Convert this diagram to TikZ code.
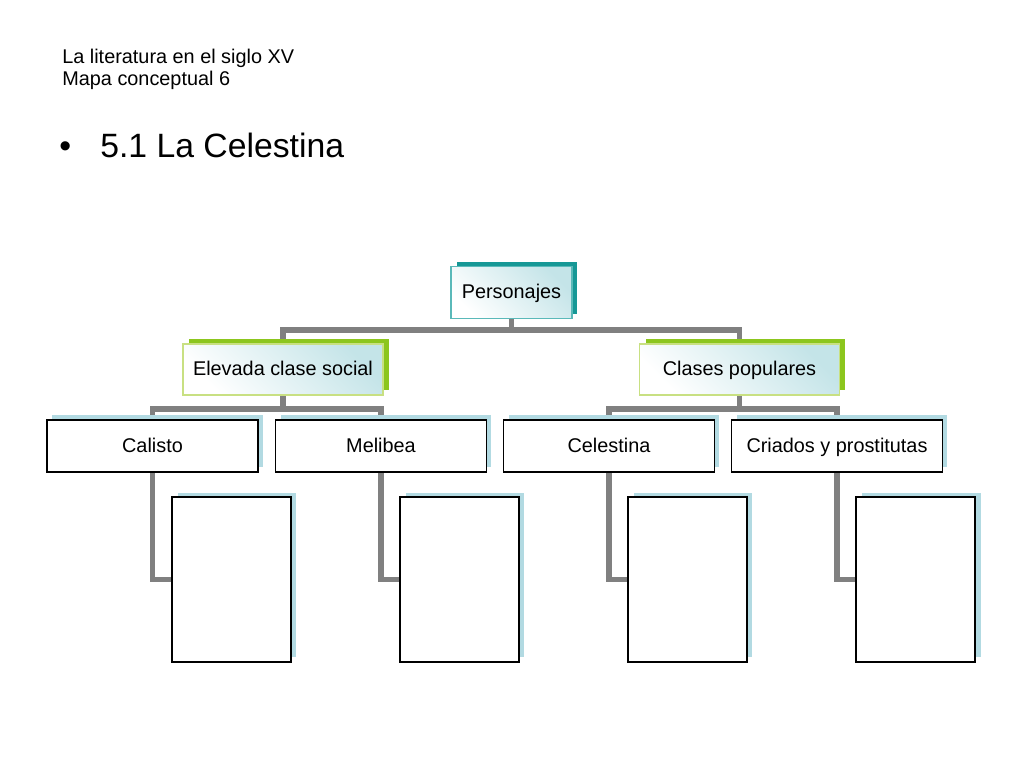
\documentclass[tikz,border=0pt]{standalone}
\usepackage{fontspec}
\setmainfont{Liberation Sans}
\usepackage{xcolor}
\usepackage{tikz}
\usetikzlibrary{
  positioning,
  calc,
  shadows,
  backgrounds
}

\definecolor{sombraturq}{RGB}{22,152,150}
\definecolor{bordeturq}{RGB}{90,185,185}
\definecolor{sombraverde}{RGB}{140,198,30}
\definecolor{bordeverde}{RGB}{200,224,130}
\definecolor{sombraazul}{RGB}{178,218,226}
\definecolor{palido}{RGB}{196,228,232}
\definecolor{conector}{RGB}{128,128,128}

\tikzset{
  texto/.style={font=\fontsize{11.3}{13}\selectfont},
  caja/.style={texto, inner sep=0pt, text height=0.716em, text depth=0pt},
  raiz/.style={caja, draw=bordeturq, line width=0.6pt,
    minimum width=2.42cm, minimum height=1.04cm,
    left color=white, right color=palido, shading angle=135,
    general shadow={fill=sombraturq, shadow xshift=0.11cm, shadow yshift=0.1cm}},
  clase/.style={caja, draw=bordeverde, line width=0.6pt,
    minimum width=4cm, minimum height=1.02cm,
    left color=white, right color=palido, shading angle=135,
    general shadow={fill=sombraverde, shadow xshift=0.12cm, shadow yshift=0.1cm}},
  persona/.style={caja, draw=black, fill=white, line width=0.6pt,
    minimum width=4.22cm, minimum height=1.04cm,
    general shadow={fill=sombraazul, shadow xshift=0.1cm, shadow yshift=0.1cm}},
  vacio/.style={draw=black, fill=white, line width=0.6pt, inner sep=0pt,
    minimum width=2.38cm, minimum height=3.3cm,
    general shadow={fill=sombraazul, shadow xshift=0.11cm, shadow yshift=0.09cm}},
  conn/.style={draw=conector, line width=3.4pt, line join=miter}
}

\begin{document}
\begin{tikzpicture}[x=0.02cm, y=-0.02cm]
  \useasboundingbox (0,0) rectangle (1024,768);

  % 見出し
  \node[texto, anchor=base west, inner sep=0pt] (tit1) at (62,63) {La literatura en el siglo XV};
  \node[texto, anchor=base west, inner sep=0pt] (tit2) at (62,85) {Mapa conceptual 6};
  \node[font=\fontsize{19.2}{23}\selectfont, anchor=base west, inner sep=0pt] (vin) at (59,157) {•};
  \node[font=\fontsize{19.2}{23}\selectfont, anchor=base west, inner sep=0pt] (sub) at (100,157) {5.1 La Celestina};

  % 第1段
  \node[raiz] (pers) at (511.5,292.5) {Personajes};

  % 第2段
  \node[clase] (elev) at (283,369.5) {Elevada clase social};
  \node[clase] (clas) at (739.5,369.5) {Clases populares};

  % 第3段
  \node[persona] (cal) at (152.5,446) {Calisto};
  \node[persona] (mel) at (381,446) {Melibea};
  \node[persona] (cel) at (609,446) {Celestina};
  \node[persona] (cri) at (837,446) {Criados y prostitutas};

  % 第4段（空欄）
  \node[vacio] (calx) at (231.5,579.5) {};
  \node[vacio] (melx) at (459.5,579.5) {};
  \node[vacio] (celx) at (687.5,579.5) {};
  \node[vacio] (crix) at (915.5,579.5) {};

  % 接続線（背景）
  \begin{scope}[on background layer]
    \fill[white] (0,0) rectangle (1024,768);
    \draw[conn] (pers.south) -- ++(0,11) -| (elev.north);
    \draw[conn] (pers.south) -- ++(0,11) -| (clas.north);
    \draw[conn] (elev.south) -- ++(0,13) -| (cal.north);
    \draw[conn] (elev.south) -- ++(0,13) -| (mel.north);
    \draw[conn] (clas.south) -- ++(0,13) -| (cel.north);
    \draw[conn] (clas.south) -- ++(0,13) -| (cri.north);
    \draw[conn] (cal.south) |- (calx.west);
    \draw[conn] (mel.south) |- (melx.west);
    \draw[conn] (cel.south) |- (celx.west);
    \draw[conn] (cri.south) |- (crix.west);
  \end{scope}
\end{tikzpicture}
\end{document}
